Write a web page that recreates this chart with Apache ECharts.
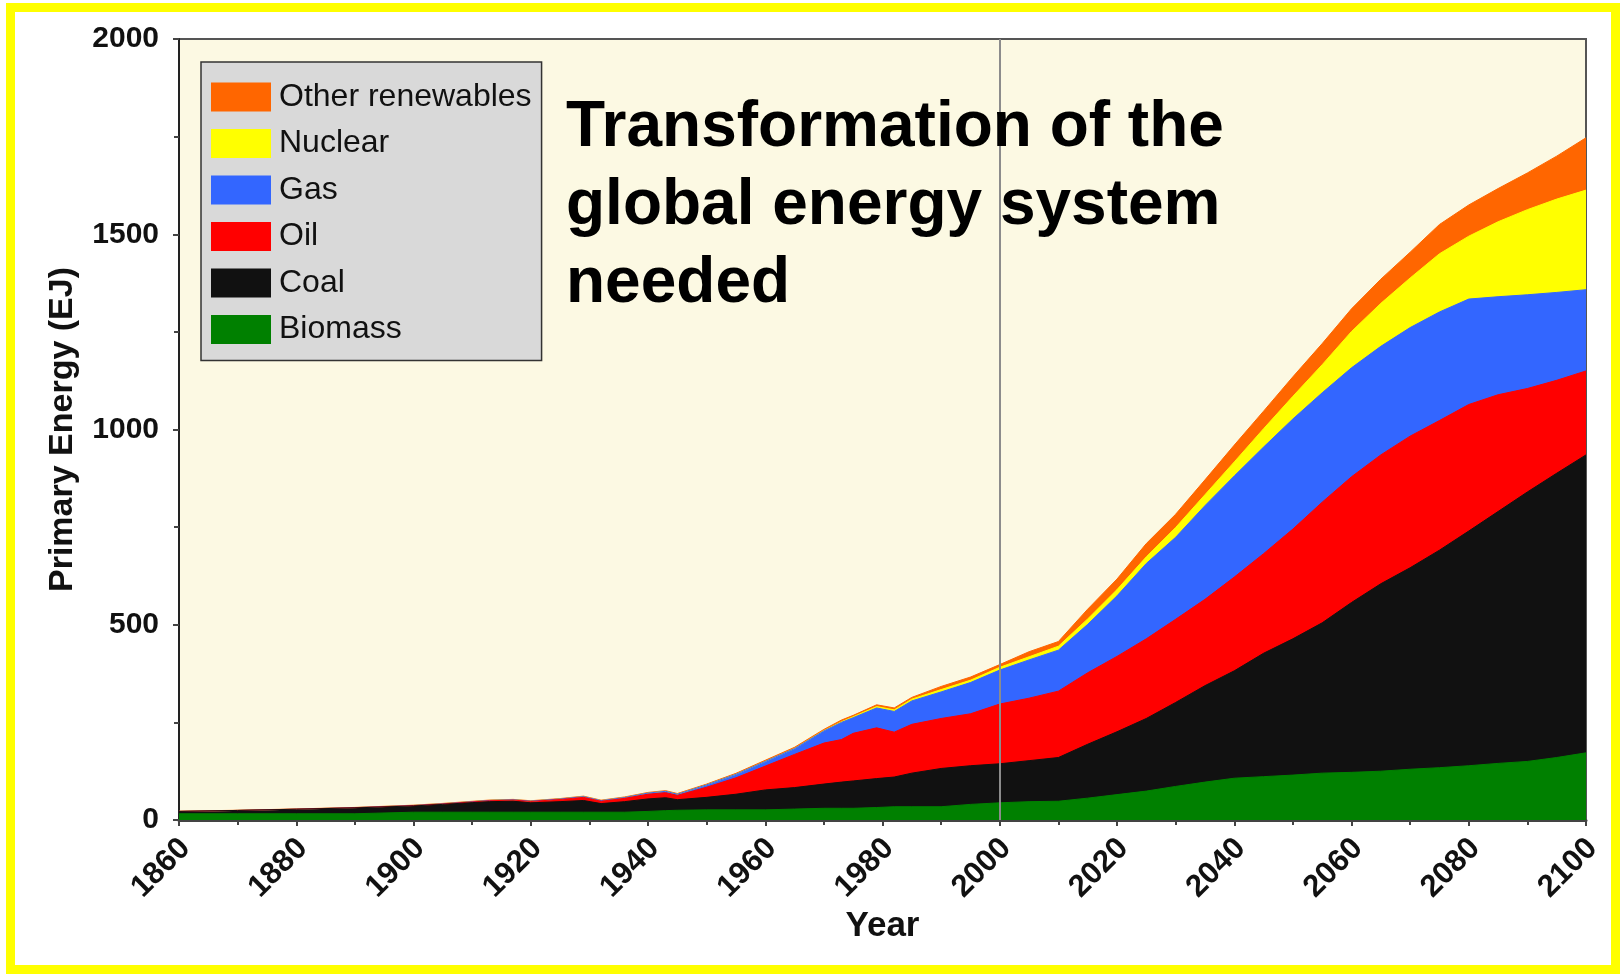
<!DOCTYPE html>
<html>
<head>
<meta charset="utf-8">
<title>Transformation of the global energy system needed</title>
<script src="https://cdn.jsdelivr.net/npm/echarts@6/dist/echarts.min.js"></script>
<style>
  html, body { margin: 0; padding: 0; background: #fff; }
  #chart { width: 1623px; height: 974px; }
</style>
</head>
<body>
<div id="chart"></div>
<script>
// Primary energy by source (EJ)
const years = [1860, 1870, 1880, 1890, 1900, 1905, 1910, 1913, 1917, 1920,
  1925, 1929, 1932, 1936, 1940, 1943, 1945, 1950, 1955, 1960,
  1965, 1970, 1973, 1975, 1979, 1982, 1985, 1990, 1995, 2000,
  2005, 2010, 2015, 2020, 2025, 2030, 2035, 2040, 2045, 2050,
  2055, 2060, 2065, 2070, 2075, 2080, 2085, 2090, 2095, 2100];

const biomass = [16, 16, 16, 16, 20, 20, 20, 20, 20, 20,
  20, 20, 20, 20, 22, 24, 25, 26, 26, 26,
  28, 30, 30, 30, 32, 34, 34, 34, 40, 44,
  47, 48, 56, 65, 74, 86, 97, 107, 111, 115,
  120, 122, 125, 130, 134, 139, 145, 150, 160, 172];

const coal = [6, 8.5, 11.5, 15, 16, 20, 24.5, 27, 28, 24,
  27, 30, 22, 27, 32, 33, 27, 32, 40, 51,
  55, 62, 67, 70, 74, 76, 86, 98, 99, 100,
  105, 112, 138, 161, 186, 215, 247, 275, 316, 349,
  385, 435, 480, 516, 557, 601, 645, 690, 728, 763];

const oil = [0, 0, 0.3, 0.5, 0.8, 1, 1.7, 2.3, 3, 3.5,
  5.5, 8, 6, 8.5, 12, 13, 11, 26, 42, 61,
  85, 105, 109, 122, 130, 115, 125, 128, 133, 153,
  160, 170, 183, 193, 204, 213, 221, 240, 255, 281,
  309, 322, 330, 337, 332, 324, 299, 265, 238, 215];

const gas = [0, 0, 0, 0.2, 0.4, 0.5, 0.7, 0.8, 0.8, 0.8,
  1.2, 1.8, 1.5, 2, 3, 3.5, 3, 6, 9, 12,
  15, 31, 44, 40, 51, 53, 60, 68, 80, 87,
  98, 105, 124, 155, 193, 210, 240, 259, 273, 282,
  280, 279, 278, 278, 278, 270, 251, 240, 225, 208];

const nuclear = [0, 0, 0, 0, 0, 0, 0, 0, 0, 0,
  0, 0, 0, 0, 0, 0, 0, 0, 0, 0,
  0.2, 0.8, 1.5, 2.5, 3.5, 4, 4.5, 6, 6, 7,
  8, 10, 14, 16, 17, 25, 28, 36, 47, 58,
  72, 93, 110, 127, 149, 161, 192, 218, 239, 255];

const otherRenewables = [0.5, 0.5, 0.5, 0.5, 0.8, 1, 1, 1, 1, 1,
  1.2, 1.3, 1.3, 1.5, 1.6, 1.7, 1.8, 2, 2.5, 3,
  3, 3.2, 4.5, 3.5, 4.5, 5, 4.5, 8, 8, 7,
  13, 12, 25, 27, 34, 34, 38, 43, 45, 50,
  54, 58, 62, 66, 75, 80, 85, 94, 110, 134];

const seriesNames = ['Biomass', 'Coal', 'Oil', 'Gas', 'Nuclear', 'Other renewables'];
const seriesValues = [biomass, coal, oil, gas, nuclear, otherRenewables];
const seriesColors = ['#008000', '#111111', '#ff0000', '#3366ff', '#ffff00', '#ff6600'];

const labelFont = '"Liberation Sans", Arial, sans-serif';

// running totals: each band is an area filled down to 0, drawn top band first
const cumulative = [];
let running = years.map(() => 0);
seriesValues.forEach(vals => {
  running = running.map((s, j) => s + vals[j]);
  cumulative.push(running);
});

const drawOrder = [5, 4, 3, 2, 1, 0];

const chart = echarts.init(document.getElementById('chart'));

chart.setOption({
  animation: false,
  graphic: [
    {
      type: 'rect', z: 100, silent: true,
      shape: { x: 10.5, y: 7.5, width: 1605, height: 962 },
      style: { fill: 'none', stroke: '#ffff00', lineWidth: 9 },
    },
    {
      type: 'text', z: 100, left: 566, top: 89, silent: true,
      style: {
        text: 'Transformation of the\nglobal energy system\nneeded',
        font: 'bold 64px "Liberation Sans", Arial, sans-serif',
        lineHeight: 78,
        fill: '#000',
      },
    },
  ],
  grid: {
    left: 179, right: 37, top: 39, bottom: 154,
    show: true,
    backgroundColor: '#fcf9e3',
    borderColor: '#555',
    borderWidth: 2,
  },
  legend: {
    orient: 'vertical', left: 201, top: 62,
    data: seriesNames.slice().reverse(),
    icon: 'rect', itemWidth: 60, itemHeight: 29, itemGap: 14.5,
    padding: [19, 10, 15, 10],
    backgroundColor: '#d9d9d9', borderColor: '#333', borderWidth: 1.5,
    selectedMode: false,
    textStyle: { fontFamily: labelFont, fontSize: 32, color: '#111', padding: [0, 0, 0, 3] },
  },
  xAxis: {
    type: 'value', min: 1860, max: 2100, interval: 20,
    name: 'Year', nameLocation: 'middle', nameGap: 89, nameMoveOverlap: false,
    nameTextStyle: { fontFamily: labelFont, fontSize: 35, fontWeight: 'bold', color: '#111' },
    axisLine: { lineStyle: { color: '#444', width: 3 } },
    axisTick: { length: 6, lineStyle: { color: '#444', width: 2 } },
    minorTick: { show: true, splitNumber: 2, length: 5, lineStyle: { color: '#444', width: 2 } },
    axisLabel: {
      rotate: 45, margin: 30, padding: [0, -9, 0, 0],
      fontFamily: labelFont, fontSize: 31, fontWeight: 'bold', color: '#111',
      formatter: v => String(v),
    },
    splitLine: { show: false },
  },
  yAxis: {
    type: 'value', min: 0, max: 2000, interval: 500,
    name: 'Primary Energy (EJ)', nameLocation: 'middle', nameGap: 99, nameMoveOverlap: false,
    nameTextStyle: { fontFamily: labelFont, fontSize: 34, fontWeight: 'bold', color: '#111' },
    axisLine: { show: true, lineStyle: { color: '#222', width: 2 } },
    axisTick: { show: true, length: 6, lineStyle: { color: '#444', width: 2 } },
    minorTick: { show: true, splitNumber: 2, length: 5, lineStyle: { color: '#444', width: 2 } },
    axisLabel: {
      margin: 20, fontFamily: labelFont, fontSize: 30, fontWeight: 'bold', color: '#111',
      formatter: v => String(v),
    },
    splitLine: { show: false },
  },
  series: drawOrder.map((i, k) => ({
    name: seriesNames[i],
    type: 'line',
    data: years.map((yr, j) => [yr, cumulative[i][j]]),
    symbol: 'none',
    showSymbol: false,
    silent: true,
    lineStyle: { width: 1, color: seriesColors[i] },
    itemStyle: { color: seriesColors[i] },
    areaStyle: { color: seriesColors[i], opacity: 1 },
    emphasis: { disabled: true },
    // the 2000 marker sits on the last band drawn so it shows over all areas
    markLine: k === drawOrder.length - 1 ? {
      silent: true,
      symbol: 'none',
      label: { show: false },
      lineStyle: { color: '#8c8c8c', width: 2, type: 'solid' },
      data: [{ xAxis: 2000 }],
    } : undefined,
  })),
});

window.addEventListener('resize', () => chart.resize());
</script>
</body>
</html>
